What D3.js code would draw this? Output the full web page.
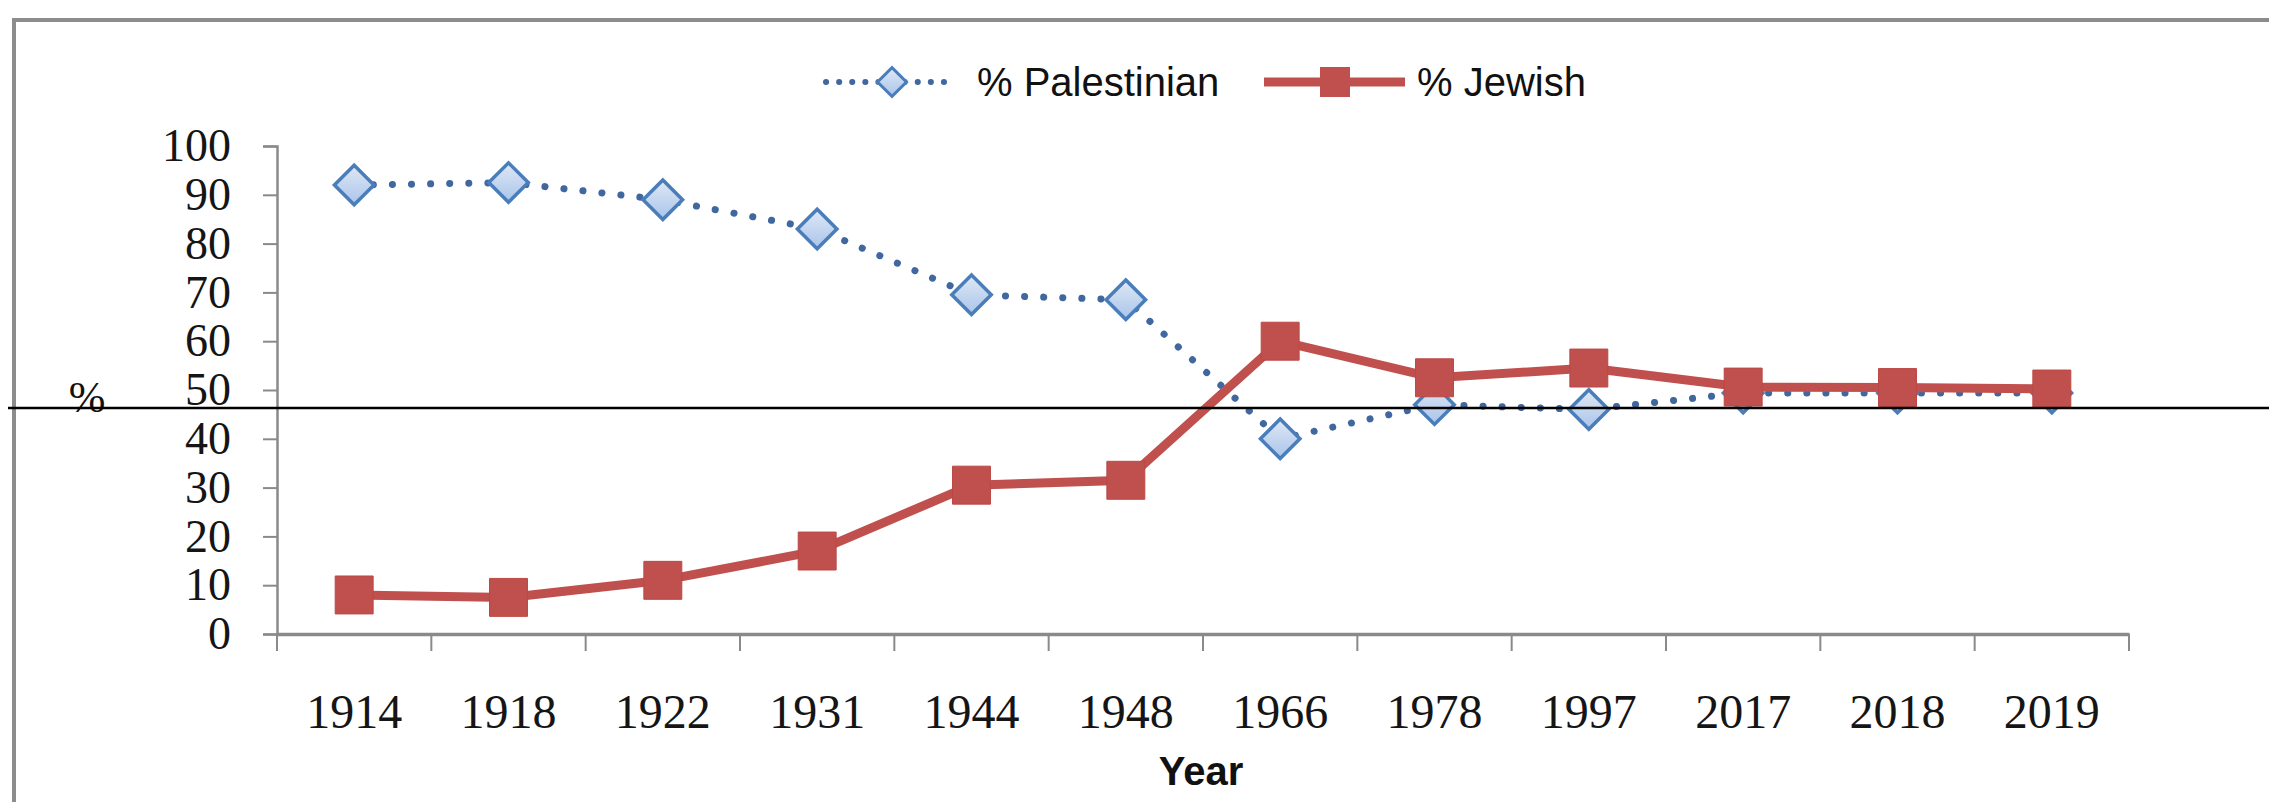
<!DOCTYPE html>
<html>
<head>
<meta charset="utf-8">
<script src="https://cdn.jsdelivr.net/npm/d3@7"></script>
<style>
  body { margin: 0; background: #fff; }
  svg { font-family: "Liberation Sans", Arial, sans-serif; }
  text { fill: #111; }
</style>
</head>
<body>
<script>
// chart values
var years = ['1914', '1918', '1922', '1931', '1944', '1948', '1966', '1978', '1997', '2017', '2018', '2019'];
var palestinian = [92, 92.5, 89, 83, 69.5, 68.5, 40, 47, 46, 49.4, 49.4, 49.4];
var jewish = [8, 7.5, 11, 17, 30.5, 31.5, 60, 52.5, 54.5, 50.6, 50.5, 50.2];
var yTicks = [0, 10, 20, 30, 40, 50, 60, 70, 80, 90, 100];
var seriesNames = ['% Palestinian', '% Jewish'];
var guideValue = 46.3; // the black line drawn across the chart

var width = 2269, height = 802;
var blue = '#4a7ebb', dotBlue = '#41679f', red = '#c0504d';
var serif = '"Liberation Serif", "DejaVu Serif", serif';

var svg = d3.select('body').append('svg')
    .attr('width', width)
    .attr('height', height);

var defs = svg.append('defs');
var grad = defs.append('linearGradient')
    .attr('id', 'diamondFill')
    .attr('x1', 0).attr('y1', 0).attr('x2', 1).attr('y2', 1);
grad.append('stop').attr('offset', '0%').attr('stop-color', '#dfe8f5');
grad.append('stop').attr('offset', '100%').attr('stop-color', '#a9c4ea');

// outer frame (cropped at right and bottom)
svg.append('rect')
    .attr('x', 14).attr('y', 20)
    .attr('width', width + 20).attr('height', height + 20)
    .attr('fill', 'none')
    .attr('stroke', '#8c8c8c')
    .attr('stroke-width', 4);

var x = d3.scaleBand().domain(years).range([277, 2129]);
var y = d3.scaleLinear().domain([0, 100]).range([634, 146]);

// y axis
var yAxis = svg.append('g')
    .attr('transform', 'translate(277,0)')
    .call(d3.axisLeft(y).tickValues(yTicks).tickSize(14).tickPadding(32).tickFormat(d3.format('d')));
yAxis.select('.domain').attr('stroke', '#8a8a8a').attr('stroke-width', 2.5);
yAxis.selectAll('.tick line').attr('stroke', '#8a8a8a').attr('stroke-width', 2);
yAxis.selectAll('.tick text')
    .style('font-family', serif)
    .style('font-size', '46px')
    .style('fill', '#151515');

// x axis, ticks between categories
var xAxis = svg.append('g')
    .attr('transform', 'translate(0,' + y(0) + ')')
    .call(d3.axisBottom(x).tickSize(0).tickPadding(0));
xAxis.select('.domain').attr('stroke', '#8a8a8a').attr('stroke-width', 3.5);
xAxis.selectAll('.tick text')
    .attr('dy', null)
    .attr('y', 94)
    .style('font-family', serif)
    .style('font-size', '48px')
    .style('fill', '#151515');
var bounds = years.map(function(d) { return x(d); }).concat([x.range()[1]]);
xAxis.selectAll('line.sep')
    .data(bounds)
    .enter().append('line')
    .attr('class', 'sep')
    .attr('x1', function(d) { return d; })
    .attr('x2', function(d) { return d; })
    .attr('y1', 0).attr('y2', 17)
    .attr('stroke', '#8a8a8a').attr('stroke-width', 2);

svg.append('text')
    .attr('x', x('1966') - 2)
    .attr('y', 785)
    .attr('text-anchor', 'middle')
    .attr('font-size', 40)
    .attr('font-weight', 'bold')
    .text('Year');

svg.append('text')
    .attr('x', 87)
    .attr('y', y(guideValue) + 4)
    .attr('text-anchor', 'middle')
    .style('font-family', serif)
    .style('font-size', '44px')
    .text('%');

var cx = function(d, i) { return x(years[i]) + x.bandwidth() / 2; };
var line = d3.line()
    .x(cx)
    .y(function(d) { return y(d); });

// Palestinian: dotted blue with diamonds
svg.append('path')
    .datum(palestinian)
    .attr('d', line)
    .attr('fill', 'none')
    .attr('stroke', dotBlue)
    .attr('stroke-width', 7)
    .attr('stroke-linecap', 'round')
    .attr('stroke-dasharray', '0.1 19');

var diamond = d3.symbol().type(d3.symbolSquare).size(780);
svg.selectAll('path.pal')
    .data(palestinian)
    .enter().append('path')
    .attr('class', 'pal')
    .attr('d', diamond)
    .attr('transform', function(d, i) { return 'translate(' + cx(d, i) + ',' + y(d) + ') rotate(45)'; })
    .attr('fill', 'url(#diamondFill)')
    .attr('stroke', blue)
    .attr('stroke-width', 3.5);

// Jewish: solid red with squares
svg.append('path')
    .datum(jewish)
    .attr('d', line)
    .attr('fill', 'none')
    .attr('stroke', red)
    .attr('stroke-width', 9);

var square = d3.symbol().type(d3.symbolSquare).size(1440);
svg.selectAll('path.jew')
    .data(jewish)
    .enter().append('path')
    .attr('class', 'jew')
    .attr('d', square)
    .attr('transform', function(d, i) { return 'translate(' + cx(d, i) + ',' + y(d) + ')'; })
    .attr('fill', red)
    .attr('stroke', '#bb4845')
    .attr('stroke-width', 1);

// black horizontal line across the whole picture
svg.append('line')
    .attr('x1', 8).attr('x2', width)
    .attr('y1', y(guideValue)).attr('y2', y(guideValue))
    .attr('stroke', '#000')
    .attr('stroke-width', 2.5);

// legend
var legend = svg.append('g').attr('transform', 'translate(0,82)');
var lg1 = legend.append('g');
lg1.append('line')
    .attr('x1', 826).attr('x2', 954).attr('y1', 0).attr('y2', 0)
    .attr('stroke', dotBlue).attr('stroke-width', 6)
    .attr('stroke-linecap', 'round').attr('stroke-dasharray', '0.1 13');
lg1.append('path')
    .attr('d', d3.symbol().type(d3.symbolSquare).size(420))
    .attr('transform', 'translate(892,0) rotate(45)')
    .attr('fill', 'url(#diamondFill)').attr('stroke', blue).attr('stroke-width', 3);
lg1.append('text')
    .attr('x', 977).attr('y', 0).attr('dy', '0.35em')
    .attr('font-size', 40)
    .text(seriesNames[0]);

var lg2 = legend.append('g');
lg2.append('line')
    .attr('x1', 1264).attr('x2', 1405).attr('y1', 0).attr('y2', 0)
    .attr('stroke', red).attr('stroke-width', 9);
lg2.append('path')
    .attr('d', d3.symbol().type(d3.symbolSquare).size(900))
    .attr('transform', 'translate(1335,0)')
    .attr('fill', red);
lg2.append('text')
    .attr('x', 1417).attr('y', 0).attr('dy', '0.35em')
    .attr('font-size', 40)
    .text(seriesNames[1]);
</script>
</body>
</html>
